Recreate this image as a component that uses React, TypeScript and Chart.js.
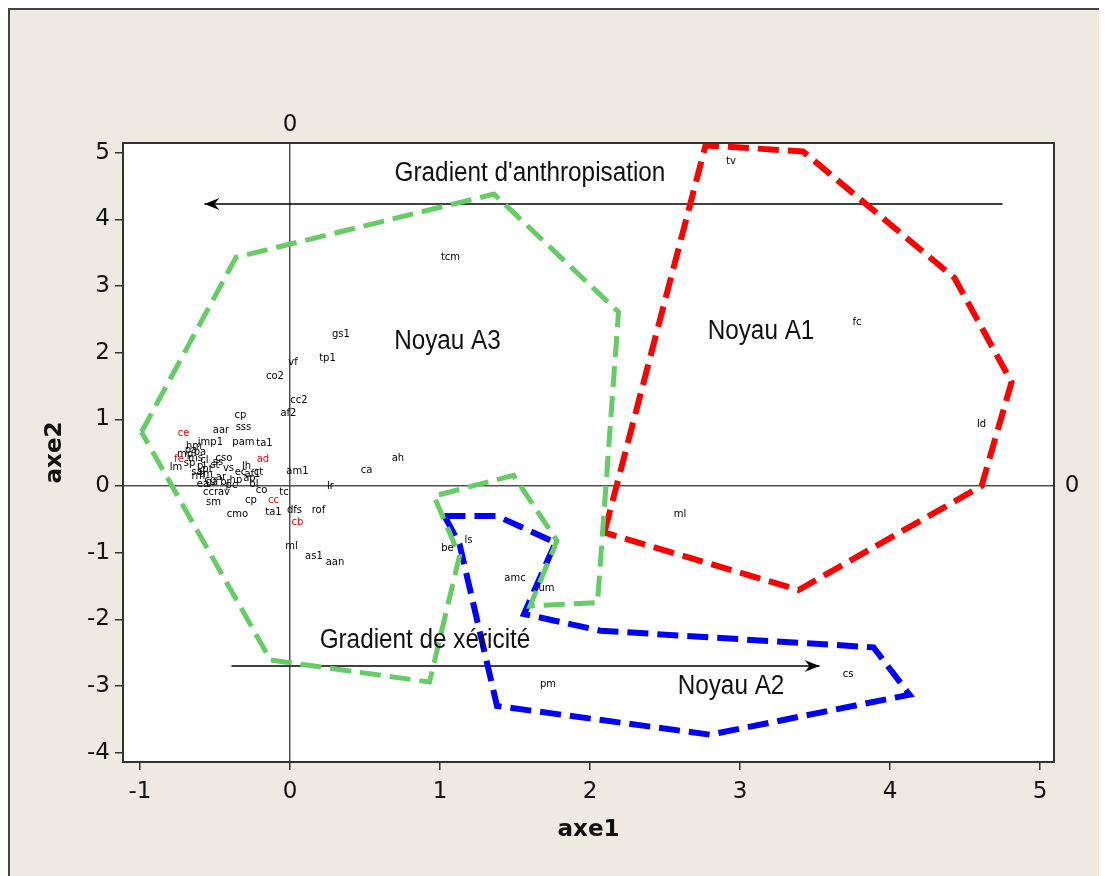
import React, { useEffect, useRef } from "react";
import { Chart, registerables } from "chart.js";

Chart.register(...registerables);

// ---------- DATA ----------
const xTickValues = [-1, 0, 1, 2, 3, 4, 5];
const yTickValues = [-4, -3, -2, -1, 0, 1, 2, 3, 4, 5];
const xAxisTitle = "axe1";
const yAxisTitle = "axe2";

const pointNames = [
  "tv", "tcm", "fc", "ld", "ml", "cs", "pm", "um", "amc", "be", "ls",
  "gs1", "tp1", "vf", "co2", "cc2", "af2", "ah", "ca", "am1", "lr", "tc",
  "rof", "ta1", "dfs", "cb", "ml", "as1", "aan", "cmo", "sm", "ccrav", "co",
  "cp", "cc", "cp", "aar", "sss", "ce", "jmp1", "pam", "ta1", "fe", "lm",
  "cso", "ad", "vs", "pa", "ms", "pl", "tm", "cg", "sa", "ar", "hp", "ap",
  "ct", "lh", "sp", "pc", "ea", "mp", "ss", "ol",
  "hm", "ba", "cl", "pt", "rm", "ga", "st", "br", "ec", "af1",
];
const pointX = [
  2.94, 1.07, 3.78, 4.61, 2.6, 3.72, 1.72, 1.71, 1.5, 1.05, 1.19,
  0.34, 0.25, 0.02, -0.1, 0.06, -0.01, 0.72, 0.51, 0.05, 0.27, -0.04,
  0.19, -0.11, 0.03, 0.05, 0.01, 0.16, 0.3, -0.35, -0.51, -0.49, -0.19,
  -0.26, -0.11, -0.33, -0.46, -0.31, -0.71, -0.53, -0.31, -0.17, -0.74, -0.76,
  -0.44, -0.18, -0.41, -0.66, -0.63, -0.59, -0.56, -0.53, -0.62, -0.46, -0.36, -0.27,
  -0.21, -0.29, -0.67, -0.39, -0.58, -0.7, -0.48, -0.24,
  -0.64, -0.6, -0.57, -0.55, -0.61, -0.52, -0.5, -0.43, -0.33, -0.25,
];
const pointY = [
  4.87, 3.43, 2.46, 0.93, -0.43, -2.83, -2.98, -1.53, -1.38, -0.93, -0.82,
  2.28, 1.92, 1.86, 1.65, 1.29, 1.09, 0.42, 0.24, 0.22, -0.01, -0.09,
  -0.36, -0.4, -0.37, -0.55, -0.9, -1.05, -1.14, -0.43, -0.25, -0.1, -0.06,
  -0.21, -0.21, 1.06, 0.84, 0.88, 0.79, 0.66, 0.66, 0.64, 0.4, 0.28,
  0.42, 0.4, 0.27, 0.54, 0.42, 0.3, 0.18, 0.09, 0.21, 0.13, 0.09, 0.12,
  0.21, 0.3, 0.34, 0.01, 0.02, 0.47, 0.36, 0.02,
  0.6, 0.5, 0.38, 0.25, 0.14, 0.05, 0.31, 0.06, 0.2, 0.18,
];
const redPointIndexes = [25, 34, 38, 42, 45];

// Noyau A3 (green)
const greenX = [-0.99, -0.36, 1.36, 2.19, 2.05, 1.6, 1.78, 1.49, 0.96, 1.13, 0.93, -0.13, -0.99];
const greenY = [0.81, 3.43, 4.38, 2.61, -1.75, -1.8, -0.82, 0.16, -0.15, -1.05, -2.94, -2.61, 0.81];
// Noyau A1 (red)
const redX = [2.1, 2.77, 3.42, 4.43, 4.81, 4.61, 3.39, 2.1, 2.1];
const redY = [-0.66, 5.11, 5.02, 3.12, 1.56, 0.0, -1.56, -0.7, -0.66];
// Noyau A2 (blue)
const blueX = [1.03, 1.38, 1.77, 1.56, 2.07, 3.89, 4.13, 2.8, 1.38, 1.13, 1.03];
const blueY = [-0.45, -0.45, -0.85, -1.92, -2.17, -2.42, -3.13, -3.73, -3.3, -0.87, -0.45];

// Gradient arrows (last point = arrow tip)
const anthropArrowX = [4.75, -0.57];
const anthropArrowY = [4.23, 4.23];
const xericArrowX = [-0.39, 3.53];
const xericArrowY = [-2.7, -2.7];

// Annotations
const annotTexts = ["Gradient d'anthropisation", "Noyau A3", "Noyau A1", "Noyau A2", "Gradient de xéricité"];
const annotX = [1.6, 1.05, 3.14, 2.94, 0.9];
const annotY = [4.57, 2.05, 2.2, -3.12, -2.43];

// ---------- HELPERS ----------
const toXY = (xs: number[], ys: number[]) => xs.map((x, i) => ({ x, y: ys[i] }));

const decorPlugin = {
  id: "decor",
  beforeDraw(chart: any) {
    const { ctx, chartArea: a } = chart;
    ctx.save();
    ctx.fillStyle = "#ffffff";
    ctx.fillRect(a.left, a.top, a.right - a.left, a.bottom - a.top);
    ctx.restore();
  },
  afterDatasetsDraw(chart: any) {
    const { ctx } = chart;
    const xs = chart.scales.x;
    const ys = chart.scales.y;
    ctx.save();
    // point labels
    const meta = chart.getDatasetMeta(0);
    ctx.font = '10px "DejaVu Sans"';
    ctx.textAlign = "center";
    ctx.textBaseline = "middle";
    meta.data.forEach((el: any, i: number) => {
      ctx.fillStyle = redPointIndexes.includes(i) ? "#ff0000" : "#000000";
      ctx.fillText(pointNames[i], el.x, el.y);
    });
    // arrow heads
    const drawHead = (dsIndex: number, dir: number) => {
      const m = chart.getDatasetMeta(dsIndex);
      const tip = m.data[m.data.length - 1];
      const tx = tip.x;
      const ty = tip.y;
      ctx.fillStyle = "#000";
      ctx.beginPath();
      ctx.moveTo(tx, ty);
      ctx.lineTo(tx - dir * 15, ty - 6);
      ctx.lineTo(tx - dir * 10, ty);
      ctx.lineTo(tx - dir * 15, ty + 6);
      ctx.closePath();
      ctx.fill();
    };
    drawHead(4, -1);
    drawHead(5, 1);
    // annotations
    ctx.fillStyle = "#111";
    ctx.textAlign = "center";
    ctx.textBaseline = "alphabetic";
    ctx.font = '27px "Liberation Sans"';
    annotTexts.forEach((t, i) => {
      ctx.save();
      ctx.translate(xs.getPixelForValue(annotX[i]), ys.getPixelForValue(annotY[i]));
      ctx.scale(0.9, 1);
      ctx.fillText(t, 0, 0);
      ctx.restore();
    });
    ctx.restore();
  },
  afterDraw(chart: any) {
    const { ctx, chartArea: a } = chart;
    const xs = chart.scales.x;
    const ys = chart.scales.y;
    ctx.save();
    ctx.strokeStyle = "#333";
    ctx.lineWidth = 2;
    ctx.strokeRect(a.left, a.top, a.right - a.left, a.bottom - a.top);
    ctx.fillStyle = "#111";
    ctx.font = '23px "DejaVu Sans"';
    ctx.textAlign = "center";
    ctx.textBaseline = "middle";
    ctx.fillText("0", xs.getPixelForValue(0), a.top - 18);
    ctx.fillText("0", a.right + 18, ys.getPixelForValue(0));
    ctx.restore();
  },
};

export default function App() {
  const canvasRef = useRef<HTMLCanvasElement | null>(null);

  useEffect(() => {
    if (!canvasRef.current) return;
    const lineDs = (data: any, color: string, width: number, dash: number[]) => ({
      data,
      showLine: true,
      borderColor: color,
      backgroundColor: color,
      borderWidth: width,
      borderDash: dash,
      pointRadius: 0,
      pointHoverRadius: 0,
      fill: false,
      tension: 0,
      borderCapStyle: "butt",
      borderJoinStyle: "miter",
    });

    const zeroGrid = (ctx: any) => (ctx.tick && ctx.tick.value === 0 ? "#505050" : "rgba(0,0,0,0)");

    const chart = new Chart(canvasRef.current, {
      type: "scatter",
      data: {
        datasets: [
          { data: toXY(pointX, pointY), pointRadius: 0, pointHoverRadius: 0, showLine: false },
          lineDs(toXY(greenX, greenY), "#66CC66", 5, [21, 9]),
          lineDs(toXY(redX, redY), "#FF0000", 6, [21, 9]),
          lineDs(toXY(blueX, blueY), "#0000FF", 6, [21, 9]),
          lineDs(toXY(anthropArrowX, anthropArrowY), "#000000", 1.5, []),
          lineDs(toXY(xericArrowX, xericArrowY), "#000000", 1.5, []),
        ] as any,
      },
      options: {
        animation: false,
        responsive: false,
        events: [],
        layout: { padding: { left: 0, top: 135, right: 53, bottom: 0 } },
        plugins: { legend: { display: false }, tooltip: { enabled: false } },
        scales: {
          x: {
            type: "linear",
            min: -1.113,
            max: 5.093,
            afterFit: (s: any) => {
              s.height = 114;
            },
            afterBuildTicks: (s: any) => {
              s.ticks = xTickValues.map((v) => ({ value: v }));
            },
            ticks: {
              font: { family: "DejaVu Sans", size: 23 },
              color: "#111",
              padding: 8,
              maxRotation: 0,
              autoSkip: false,
            },
            grid: {
              color: zeroGrid,
              lineWidth: 1.5,
              tickColor: "#333",
              tickWidth: 1.5,
              tickLength: 8,
              drawOnChartArea: true,
            },
            border: { display: false },
            title: {
              display: true,
              text: xAxisTitle,
              color: "#111",
              font: { family: "DejaVu Sans", size: 23, weight: "bold" },
              padding: { top: 0, bottom: 32 },
            },
          },
          y: {
            type: "linear",
            min: -4.14,
            max: 5.146,
            afterFit: (s: any) => {
              s.width = 115;
            },
            afterBuildTicks: (s: any) => {
              s.ticks = yTickValues.map((v) => ({ value: v }));
            },
            ticks: {
              font: { family: "DejaVu Sans", size: 23 },
              color: "#111",
              padding: 5,
              autoSkip: false,
            },
            grid: {
              color: zeroGrid,
              lineWidth: 1.5,
              tickColor: "#333",
              tickWidth: 1.5,
              tickLength: 8,
              drawOnChartArea: true,
            },
            border: { display: false },
            title: {
              display: true,
              text: yAxisTitle,
              color: "#111",
              font: { family: "DejaVu Sans", size: 23, weight: "bold" },
              padding: { top: 33, bottom: 0 },
            },
          },
        },
      } as any,
      plugins: [decorPlugin],
    });
    return () => chart.destroy();
  }, []);

  return (
    <div
      style={{
        position: "relative",
        width: 1099,
        height: 868,
        background: "#EEEAE1",
        boxShadow: "inset 2px 2px 0 #444",
        overflow: "hidden",
      }}
    >
      <canvas
        ref={canvasRef}
        width={1099}
        height={868}
        style={{ position: "absolute", left: 0, top: 0, width: 1099, height: 868 }}
      />
    </div>
  );
}
